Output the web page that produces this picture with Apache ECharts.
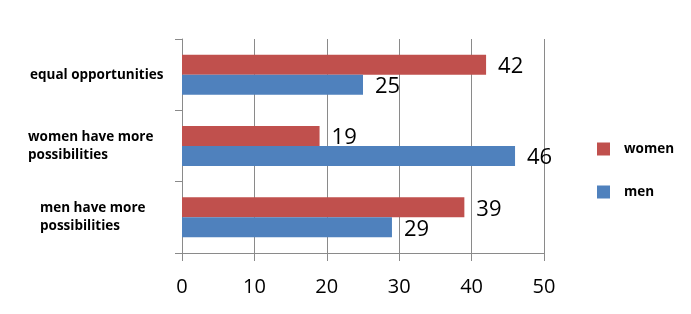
<!DOCTYPE html>
<html>
<head>
<meta charset="utf-8">
<script src="https://cdn.jsdelivr.net/npm/echarts@6/dist/echarts.min.js"></script>
<style>html,body{margin:0;padding:0;background:#fff;}#c{width:691px;height:314px;}</style>
</head>
<body>
<div id="c"></div>
<script>
// categories bottom-to-top (ECharts category y axis starts at bottom)
var categories = ['men have more possibilities', 'women have more possibilities', 'equal opportunities'];
var categoryLines = [['men have more', 'possibilities'], ['women have more', 'possibilities'], ['equal opportunities']];
var womenValues = [39, 19, 42];
var menValues = [29, 46, 25];
var xTicks = [0, 10, 20, 30, 40, 50];

var gridColor = '#8a8a8a';
var font = 'Open Sans';
var labelStyles = ['c', 'b', 'a'];

var chart = echarts.init(document.getElementById('c'));
chart.setOption({
  animation: false,
  backgroundColor: '#fff',
  grid: {left: 182, right: 147, top: 39, bottom: 61, containLabel: false},
  legend: {
    orient: 'vertical',
    left: 592, top: 137,
    data: ['women', 'men'],
    itemWidth: 13, itemHeight: 13, itemGap: 29,
    icon: 'rect',
    textStyle: {fontFamily: font, fontWeight: 'bold', fontSize: 13.5, color: '#000', padding: [0, 0, 0, 9]}
  },
  xAxis: {
    type: 'value',
    min: xTicks[0], max: xTicks[xTicks.length - 1], interval: 10,
    axisLine: {show: true, lineStyle: {color: gridColor, width: 1}},
    axisTick: {show: true, length: 8, lineStyle: {color: gridColor}},
    splitLine: {show: true, lineStyle: {color: gridColor, width: 1}},
    axisLabel: {fontFamily: font, fontSize: 20, color: '#000', margin: 24}
  },
  yAxis: {
    type: 'category',
    data: categories,
    axisLine: {show: true, lineStyle: {color: gridColor, width: 1}},
    axisTick: {show: true, length: 7, lineStyle: {color: gridColor}},
    axisLabel: {
      align: 'left',
      margin: 154,
      formatter: function (v, i) {
        var s = labelStyles[i];
        return categoryLines[i].map(function (l) { return '{' + s + '|' + l + '}'; }).join('\n');
      },
      rich: {
        a: {fontFamily: font, fontWeight: 'bold', fontSize: 13.5, color: '#000', lineHeight: 18, padding: [0, 0, 0, 2]},
        b: {fontFamily: font, fontWeight: 'bold', fontSize: 13.5, color: '#000', lineHeight: 18, padding: [0, 0, 0, 0]},
        c: {fontFamily: font, fontWeight: 'bold', fontSize: 13.5, color: '#000', lineHeight: 18, padding: [0, 0, 0, 12]}
      }
    }
  },
  series: [
    {
      name: 'women', type: 'bar', data: womenValues, barWidth: 20, barGap: '0%',
      itemStyle: {color: '#C0504D'},
      label: {show: true, position: 'right', distance: 12, offset: [0, 2], fontFamily: font, fontSize: 22, color: '#000'}
    },
    {
      name: 'men', type: 'bar', data: menValues, barWidth: 20, barGap: '0%',
      itemStyle: {color: '#4F81BD'},
      label: {show: true, position: 'right', distance: 12, offset: [0, 2], fontFamily: font, fontSize: 22, color: '#000'}
    }
  ]
});
</script>
</body>
</html>
